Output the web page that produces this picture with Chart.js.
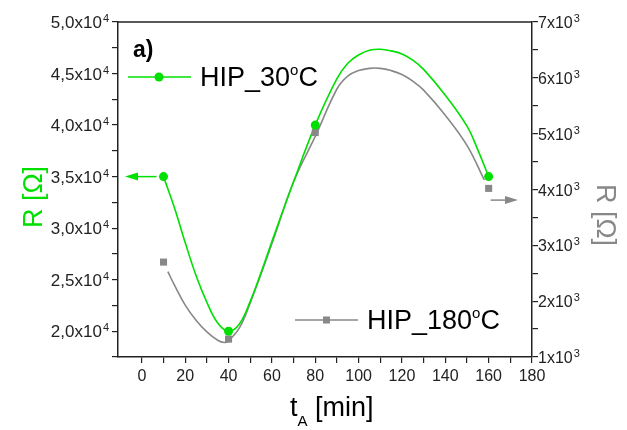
<!DOCTYPE html>
<html>
<head>
<meta charset="utf-8">
<script src="https://cdn.jsdelivr.net/npm/chart.js@4/dist/chart.umd.min.js"></script>
<style>
  body { margin: 0; background: #fff; }
</style>
</head>
<body>
<canvas id="rChart" width="627" height="430"></canvas>
<script>
// measured points
const timeMin = [10, 40, 80, 160];
const r30 = [35000, 20000, 40000, 35000];   // HIP_30°C, left axis
const r180 = [2700, 1320, 5020, 4020];      // HIP_180°C, right axis

// smooth curves
const fitTime30 = [10, 15, 20, 25, 30, 35, 40, 45, 50, 55, 60, 70, 80, 90, 95, 100, 105, 110, 115, 120, 125, 130, 140, 150, 155, 160];
const fit30 = [35000, 32000, 28600, 25400, 22800, 20800, 20000, 20700, 22900, 25700, 28700, 34500, 40000, 44500, 46000, 46800, 47250, 47350, 47200, 46900, 46300, 45400, 42900, 39900, 37600, 35000];
const fitTime180 = [12, 15, 20, 25, 30, 35, 38, 40, 45, 50, 60, 70, 80, 90, 95, 100, 105, 110, 115, 120, 125, 130, 140, 150, 158];
const fit180 = [2530, 2290, 1930, 1660, 1450, 1300, 1260, 1290, 1520, 1970, 3030, 4140, 4950, 5800, 6030, 6130, 6170, 6170, 6130, 6060, 5940, 5780, 5330, 4790, 4170];

// tick labels
const xTicks = [0, 20, 40, 60, 80, 100, 120, 140, 160, 180];
const leftTickValues = [20000, 25000, 30000, 35000, 40000, 45000, 50000];
const leftTickLabels = ['2,0', '2,5', '3,0', '3,5', '4,0', '4,5', '5,0'];
const leftExp = '4';
const rightTickValues = [1000, 2000, 3000, 4000, 5000, 6000, 7000];
const rightTickLabels = ['1', '2', '3', '4', '5', '6', '7'];
const rightExp = '3';

const GREEN = '#00e000';
const GRAY = '#888888';
const INK = '#222222';
const FONT = '"Liberation Sans", Arial, sans-serif';

function pts(xs, ys) {
  return xs.map((x, i) => ({x: x, y: ys[i]}));
}

function drawPow(ctx, base, exp, x, y, alignRight, size) {
  ctx.font = `${size}px ${FONT}`;
  const wBase = ctx.measureText(base).width;
  ctx.font = `11px ${FONT}`;
  const wExp = ctx.measureText(exp).width;
  const x0 = alignRight ? x - wBase - wExp - 1 : x;
  ctx.fillStyle = INK;
  ctx.textAlign = 'left';
  ctx.textBaseline = 'alphabetic';
  ctx.font = `${size}px ${FONT}`;
  ctx.fillText(base, x0, y + 6);
  ctx.font = `11px ${FONT}`;
  ctx.fillText(exp, x0 + wBase + 1, y);
}

function arrow(ctx, x1, tip, y, color) {
  const dir = Math.sign(tip - x1);
  ctx.strokeStyle = color;
  ctx.fillStyle = color;
  ctx.lineWidth = 1.5;
  ctx.beginPath();
  ctx.moveTo(x1, y);
  ctx.lineTo(tip - dir * 10, y);
  ctx.stroke();
  ctx.beginPath();
  ctx.moveTo(tip, y);
  ctx.lineTo(tip - dir * 13, y - 4);
  ctx.lineTo(tip - dir * 13, y + 4);
  ctx.closePath();
  ctx.fill();
}

// text with a raised small "o" before the C
function degreeText(ctx, head, x, y, size) {
  ctx.textAlign = 'left';
  ctx.textBaseline = 'alphabetic';
  ctx.fillStyle = '#000';
  ctx.font = `${size}px ${FONT}`;
  ctx.fillText(head, x, y);
  let cx = x + ctx.measureText(head).width;
  ctx.font = `${Math.round(size * 0.55)}px ${FONT}`;
  ctx.fillText('o', cx, y - size * 0.42);
  cx += ctx.measureText('o').width;
  ctx.font = `${size}px ${FONT}`;
  ctx.fillText('C', cx, y);
}

const decorations = {
  id: 'decorations',
  afterDatasetsDraw(chart) {
    const ctx = chart.ctx;
    const area = chart.chartArea;
    const xs = chart.scales.x;
    const yl = chart.scales.yLeft;
    const yr = chart.scales.yRight;
    ctx.save();

    // frame top
    ctx.strokeStyle = INK;
    ctx.lineWidth = 1.5;
    ctx.beginPath();
    ctx.moveTo(area.left, area.top);
    ctx.lineTo(area.right, area.top);
    ctx.stroke();

    // axis arrows
    arrow(ctx, xs.getPixelForValue(timeMin[0]) - 7, area.left + 7, yl.getPixelForValue(r30[0]), GREEN);
    arrow(ctx, xs.getPixelForValue(timeMin[3]) + 2, area.right - 14, yr.getPixelForValue(3810), GRAY);

    // tick labels with powers of ten
    leftTickValues.forEach((v, i) => {
      drawPow(ctx, leftTickLabels[i] + 'x10', leftExp, area.left - 9, yl.getPixelForValue(v), true, 17);
    });
    rightTickValues.forEach((v, i) => {
      drawPow(ctx, rightTickLabels[i] + 'x10', rightExp, area.right + 6, yr.getPixelForValue(v), false, 16);
    });

    // axis titles
    ctx.textBaseline = 'alphabetic';
    ctx.font = `27px ${FONT}`;
    ctx.fillStyle = GREEN;
    ctx.save();
    ctx.translate(42, 197);
    ctx.rotate(-Math.PI / 2);
    ctx.textAlign = 'center';
    ctx.fillText('R [Ω]', 0, 0);
    ctx.restore();

    ctx.fillStyle = GRAY;
    ctx.save();
    ctx.translate(597, 215);
    ctx.rotate(Math.PI / 2);
    ctx.textAlign = 'center';
    ctx.fillText('R [Ω]', 0, 0);
    ctx.restore();

    ctx.fillStyle = '#000';
    ctx.textAlign = 'left';
    let tx = 290;
    ctx.font = `27px ${FONT}`;
    ctx.fillText('t', tx, 416);
    tx += ctx.measureText('t').width;
    ctx.font = `15px ${FONT}`;
    ctx.fillText('A', tx, 426);
    tx += ctx.measureText('A').width;
    ctx.font = `27px ${FONT}`;
    ctx.fillText(' [min]', tx, 416);

    // panel label
    ctx.font = `bold 23px ${FONT}`;
    ctx.fillText('a)', 133, 57);

    // legend
    ctx.lineWidth = 1.5;
    ctx.strokeStyle = GREEN;
    ctx.beginPath();
    ctx.moveTo(128, 77);
    ctx.lineTo(191, 77);
    ctx.stroke();
    ctx.fillStyle = GREEN;
    ctx.beginPath();
    ctx.arc(159, 77, 4.5, 0, Math.PI * 2);
    ctx.fill();
    degreeText(ctx, 'HIP_30', 200, 86, 27);

    ctx.strokeStyle = GRAY;
    ctx.beginPath();
    ctx.moveTo(295, 320);
    ctx.lineTo(358, 320);
    ctx.stroke();
    ctx.fillStyle = GRAY;
    ctx.fillRect(323, 316.5, 7, 7);
    degreeText(ctx, 'HIP_180', 367, 329, 27);

    ctx.restore();
  }
};

const axisLine = {display: true, color: INK, width: 1.5};
const tickMarks = {display: true, drawOnChartArea: false, drawTicks: true, tickLength: 6, color: INK, lineWidth: 1.2};

const data = {
  datasets: [
    {
      label: 'HIP_30°C',
      data: pts(timeMin, r30),
      yAxisID: 'yLeft',
      showLine: false,
      pointStyle: 'circle',
      pointRadius: 4.5,
      pointBorderWidth: 0,
      pointBackgroundColor: GREEN
    },
    {
      label: 'HIP_180°C',
      data: pts(timeMin, r180),
      yAxisID: 'yRight',
      showLine: false,
      pointStyle: 'rect',
      pointRadius: 5,
      pointBorderWidth: 0,
      pointBackgroundColor: GRAY
    },
    {
      label: 'fit 30',
      data: pts(fitTime30, fit30),
      yAxisID: 'yLeft',
      showLine: true,
      pointRadius: 0,
      borderColor: GREEN,
      borderWidth: 1.6,
      tension: 0.4
    },
    {
      label: 'fit 180',
      data: pts(fitTime180, fit180),
      yAxisID: 'yRight',
      showLine: true,
      pointRadius: 0,
      borderColor: GRAY,
      borderWidth: 1.6,
      tension: 0.4
    }
  ]
};

const config = {
  type: 'scatter',
  data: data,
  plugins: [decorations],
  options: {
    responsive: false,
    animation: false,
    layout: {padding: {top: 22, left: 0, right: 0, bottom: 0}},
    plugins: {legend: {display: false}, tooltip: {enabled: false}},
    scales: {
      x: {
        type: 'linear',
        position: 'bottom',
        min: -11,
        max: 180,
        border: axisLine,
        grid: tickMarks,
        afterBuildTicks: (scale) => {
          scale.ticks = scale.ticks.filter(t => t.value % 10 === 0);
        },
        afterFit: (scale) => { scale.height = 73; },
        ticks: {
          stepSize: 10,
          autoSkip: false,
          maxRotation: 0,
          padding: 4,
          color: INK,
          font: {family: FONT, size: 16},
          callback: (v) => xTicks.includes(v) ? String(v) : ''
        }
      },
      yLeft: {
        type: 'linear',
        position: 'left',
        min: 17500,
        max: 50000,
        border: axisLine,
        grid: tickMarks,
        ticks: {display: false, stepSize: 2500},
        afterFit: (scale) => { scale.width = 118; }
      },
      yRight: {
        type: 'linear',
        position: 'right',
        min: 1000,
        max: 7000,
        border: axisLine,
        grid: tickMarks,
        ticks: {display: false, stepSize: 500},
        afterFit: (scale) => { scale.width = 95; }
      }
    }
  }
};

const myChart = new Chart(document.getElementById('rChart'), config);
</script>
</body>
</html>
